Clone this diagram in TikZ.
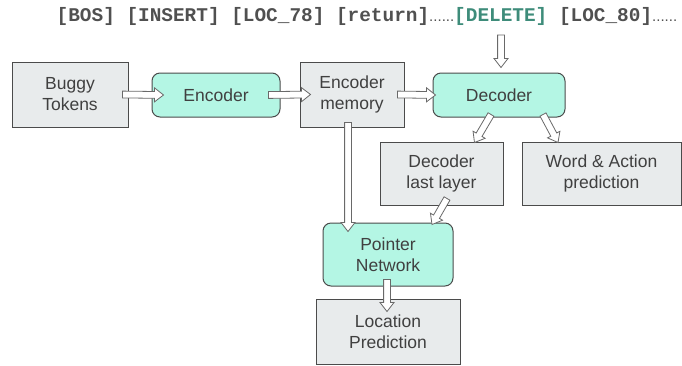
\documentclass[tikz,border=0pt]{standalone}
\usepackage{fontspec}
\setmainfont{Liberation Sans}
\newfontfamily\codefont{Liberation Mono}
\usetikzlibrary{calc, positioning}

\definecolor{boxgray}{RGB}{232,235,236}
\definecolor{mint}{RGB}{180,246,228}
\definecolor{edgegray}{RGB}{75,75,75}
\definecolor{txtgray}{RGB}{64,64,64}
\definecolor{codegray}{RGB}{80,80,80}
\definecolor{delteal}{RGB}{62,140,122}
\definecolor{arrowgray}{RGB}{105,105,105}

\tikzset{
  plainbox/.style={draw=edgegray, fill=boxgray, line width=1pt, align=center, text=txtgray,
    font=\fontsize{17.5}{21}\selectfont, inner sep=0pt},
  netbox/.style={plainbox, fill=mint, rounded corners=8pt},
  % hollow block arrow between two points
  blockarrow/.style={draw=arrowgray, fill=white, line width=0.8pt, line join=miter,
    to path={let \p1=(\tikztostart), \p2=(\tikztotarget), \n1={atan2(\y2-\y1,\x2-\x1)} in
      ($(\p1)+({\n1+90}:3.4pt)$) -- ($(\p2)+({\n1+180}:9pt)+({\n1+90}:3.4pt)$)
      -- ($(\p2)+({\n1+180}:9pt)+({\n1+90}:7pt)$) -- (\p2)
      -- ($(\p2)+({\n1+180}:9pt)+({\n1-90}:7pt)$) -- ($(\p2)+({\n1+180}:9pt)+({\n1-90}:3.4pt)$)
      -- ($(\p1)+({\n1-90}:3.4pt)$) -- cycle}}
}
\newcommand\seqdots{{\fontsize{15}{16}\selectfont\rmfamily\mdseries......}}

\begin{document}
\begin{tikzpicture}[x=1pt, y=-1pt]
  \useasboundingbox (0,0) rectangle (682,365);

  % token sequence
  \node[anchor=base west, inner sep=0pt, text=codegray] (seq) at (56.5,21.5)
    {\fontsize{19.4}{22}\selectfont\codefont\bfseries [BOS] [INSERT] [LOC\_78] [return]\seqdots\textcolor{delteal}{[DELETE]} [LOC\_80]\seqdots};
  \coordinate (delin) at (501,35);

  % boxes
  \node[plainbox, minimum width=116pt, minimum height=65pt] (tok) at (70,94.5) {Buggy\\Tokens};
  \node[netbox, minimum width=128pt, minimum height=44pt] (enc) at (216,95) {Encoder};
  \node[plainbox, minimum width=104pt, minimum height=65pt] (mem) at (352,94.5) {Encoder\\memory};
  \node[netbox, minimum width=132pt, minimum height=44pt] (dec) at (499,95) {Decoder};
  \node[plainbox, minimum width=123pt, minimum height=63pt] (dll) at (441.5,173.5) {Decoder\\last layer};
  \node[plainbox, minimum width=159pt, minimum height=63pt] (wap) at (601.5,173.5) {Word \& Action\\prediction};
  \node[netbox, minimum width=130pt, minimum height=63pt] (ptr) at (388,254.5) {Pointer\\Network};
  \node[plainbox, minimum width=144pt, minimum height=65pt] (loc) at (388,331.5) {Location\\Prediction};

  % arrows
  \draw[blockarrow] ([xshift=-6pt]tok.east) to ([xshift=12pt]enc.west);
  \draw[blockarrow] ([xshift=-12pt]enc.east) to ([xshift=11pt]mem.west);
  \draw[blockarrow] ([xshift=-7pt]mem.east) to ([xshift=3pt]dec.west);
  \draw[blockarrow] (delin) to ([xshift=2pt,yshift=5pt]dec.north);
  \draw[blockarrow] ([xshift=-8pt,yshift=3pt]dec.south) to ([xshift=33pt,yshift=-1pt]dll.north);
  \draw[blockarrow] ([xshift=44pt,yshift=3pt]dec.south) to ([xshift=-43.5pt,yshift=-1pt]wap.north);
  \draw[blockarrow] ([xshift=-4pt,yshift=5pt]mem.south) to ([xshift=-40pt,yshift=-9pt]ptr.north);
  \draw[blockarrow] ([xshift=5.5pt,yshift=7pt]dll.south) to ([xshift=44pt,yshift=-2pt]ptr.north);
  \draw[blockarrow] ([xshift=-1pt,yshift=7pt]ptr.south) to ([xshift=-1pt,yshift=-13pt]loc.north);
\end{tikzpicture}
\end{document}
